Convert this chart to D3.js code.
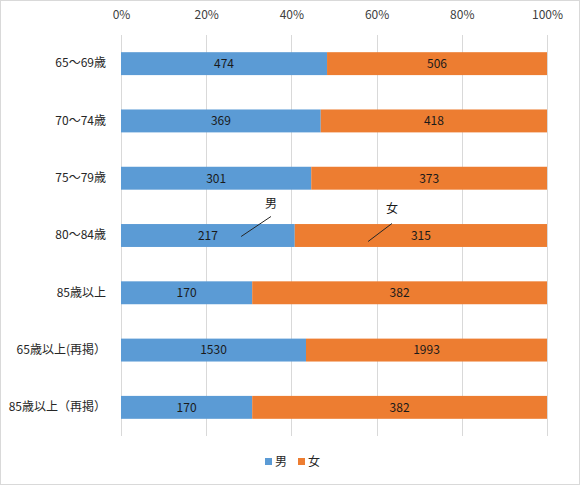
<!DOCTYPE html>
<html>
<head>
<meta charset="utf-8">
<script src="https://cdn.jsdelivr.net/npm/d3@7"></script>
<style>
  body { margin: 0; background: #fff; }
  svg { display: block; }
</style>
</head>
<body>
<div id="chart"></div>
<script>
const categories = ['65～69歳', '70～74歳', '75～79歳', '80～84歳', '85歳以上', '65歳以上(再掲）', '85歳以上（再掲）'];
const male = [474, 369, 301, 217, 170, 1530, 170];
const female = [506, 418, 373, 315, 382, 1993, 382];
const tickValues = [0, 0.2, 0.4, 0.6, 0.8, 1];
const seriesNames = ['男', '女'];

const W = 580, H = 485;
const margin = { top: 35, right: 33, bottom: 49, left: 121 };
const width = W - margin.left - margin.right;
const height = H - margin.top - margin.bottom;
const colors = { '男': '#5B9BD5', '女': '#ED7D31' };
const font = '"Noto Sans CJK JP", "Noto Sans", sans-serif';

const data = categories.map((c, i) => ({ cat: c, '男': male[i], '女': female[i] }));

const svg = d3.select('#chart').append('svg')
  .attr('width', W).attr('height', H)
  .style('font-family', font);

svg.append('rect')
  .attr('x', 0.5).attr('y', 0.5)
  .attr('width', W - 1).attr('height', H - 1)
  .attr('fill', '#fff').attr('stroke', '#d9d9d9');

const g = svg.append('g').attr('transform', `translate(${margin.left},${margin.top})`);

const x = d3.scaleLinear().domain([0, 1]).range([0, width]);
const y = d3.scaleBand().domain(categories).range([0, height])
  .paddingInner(0.6).paddingOuter(0.3);

// gridlines
g.append('g').selectAll('line')
  .data(tickValues).enter().append('line')
  .attr('x1', d => Math.round(x(d)) + 0.5).attr('x2', d => Math.round(x(d)) + 0.5)
  .attr('y1', 0).attr('y2', height)
  .attr('stroke', '#d9d9d9');

// top axis labels
const xAxis = g.append('g')
  .call(d3.axisTop(x).tickValues(tickValues).tickFormat(d3.format('.0%')).tickSize(0).tickPadding(16));
xAxis.select('.domain').remove();
xAxis.selectAll('text').attr('fill', '#404040').style('font-size', '12px').style('font-family', font);

// category labels
const yAxis = g.append('g')
  .call(d3.axisLeft(y).tickSize(0).tickPadding(15));
yAxis.select('.domain').remove();
yAxis.selectAll('text').attr('fill', '#262626').style('font-size', '12px').style('font-family', font);

// stacked bars (percent)
const stacked = d3.stack().keys(seriesNames).offset(d3.stackOffsetExpand)(data);

const layer = g.append('g').selectAll('g')
  .data(stacked).enter().append('g')
  .attr('fill', d => colors[d.key]);

layer.selectAll('rect')
  .data(d => d.map(v => Object.assign(v, { key: d.key })))
  .enter().append('rect')
  .attr('x', d => x(d[0]))
  .attr('y', d => y(d.data.cat))
  .attr('width', d => x(d[1]) - x(d[0]))
  .attr('height', y.bandwidth());

layer.selectAll('text')
  .data(d => d)
  .enter().append('text')
  .attr('x', d => (x(d[0]) + x(d[1])) / 2)
  .attr('y', d => y(d.data.cat) + y.bandwidth() / 2)
  .attr('dy', '0.36em')
  .attr('text-anchor', 'middle')
  .attr('fill', '#1a1a1a')
  .style('font-size', '12px')
  .text(d => d.data[d.key]);

// series callouts in the 80～84歳 row
const callouts = [
  { name: '男', from: 0.282, to: 0.352, dyFrom: 1, dyTo: -19, labelDy: -32 },
  { name: '女', from: 0.58, to: 0.636, dyFrom: 6, dyTo: -12, labelDy: -27 }
];
const cy = y('80～84歳') + y.bandwidth() / 2;
callouts.forEach(c => {
  g.append('line')
    .attr('x1', x(c.from)).attr('y1', cy + c.dyFrom)
    .attr('x2', x(c.to)).attr('y2', cy + c.dyTo)
    .attr('stroke', '#262626').attr('stroke-width', 1);
  g.append('text')
    .attr('x', x(c.to))
    .attr('y', cy + c.labelDy)
    .attr('dy', '0.36em')
    .attr('text-anchor', 'middle')
    .attr('fill', '#1a1a1a')
    .style('font-size', '12px')
    .text(c.name);
});

// legend
const legend = svg.append('g').attr('transform', `translate(265, 462)`);
const li = legend.selectAll('g').data(seriesNames).enter().append('g')
  .attr('transform', (d, i) => `translate(${i * 33},0)`);
li.append('rect').attr('x', 0).attr('y', -4).attr('width', 7).attr('height', 7)
  .attr('fill', d => colors[d]);
li.append('text').attr('x', 10).attr('y', 0).attr('dy', '0.36em')
  .attr('fill', '#262626').style('font-size', '12px').text(d => d);
</script>
</body>
</html>
